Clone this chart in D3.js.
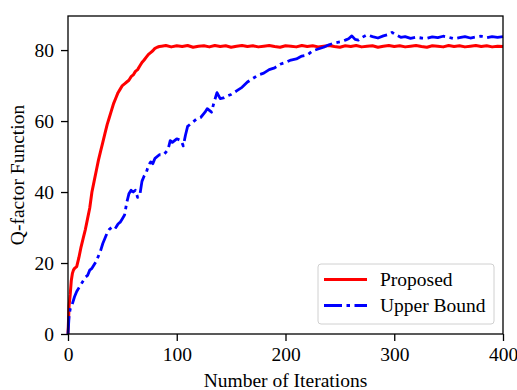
<!DOCTYPE html>
<html lang="en">
<head>
  <meta charset="UTF-8">
  <title>Q-factor Function vs Iterations</title>
  <script src="https://d3js.org/d3.v7.min.js"></script>
  <style>
    body {
      margin: 0;
      background: #fff;
    }
    svg text {
      font-family: "Liberation Serif", "Times New Roman", serif;
      fill: #000;
    }
    .axis path,
    .axis line {
      stroke: #000;
    }
  </style>
</head>
<body>
  <svg width="517" height="390"></svg>

  <script>
    // proposed curve (iteration, value)
    const proposedIter = [0, 1, 2, 3, 4, 5, 6, 8, 10, 12, 14, 16, 18, 20, 22, 24, 26, 28, 30,
      32, 34, 36, 38, 40, 42, 44, 46, 48, 50, 52, 54, 56, 58, 60, 62, 64, 66, 68, 70,
      72, 74, 76, 78, 80, 82, 84, 86, 90, 95, 100, 105, 110, 115, 120, 125, 130, 135,
      140, 145, 150, 155, 160, 165, 170, 175, 180, 185, 190, 195, 200, 205, 210, 215,
      220, 225, 230, 235, 240, 245, 250, 255, 260, 265, 270, 275, 280, 285, 290, 295,
      300, 305, 310, 315, 320, 325, 330, 335, 340, 345, 350, 355, 360, 365, 370, 375,
      380, 385, 390, 395, 400];
    const proposedVal = [0, 8, 11, 15, 17, 18, 18.5, 19, 21.5, 24.5, 27, 29.5, 32.5, 35.5,
      40, 43, 46, 49, 51.5, 54, 56.5, 59, 61, 63, 65, 66.5, 68, 69, 70, 70.5, 71, 71.5,
      72.5, 73, 74, 74.5, 75.5, 76.5, 77.2, 78, 78.8, 79.3, 79.8, 80.5, 80.8, 81, 81.1,
      81.3, 80.9, 81.2, 81.0, 81.3, 80.8, 81.1, 81.2, 80.9, 81.3, 81.0, 81.2, 80.8, 81.1,
      81.3, 81.0, 81.2, 80.9, 81.1, 81.3, 81.0, 80.8, 81.2, 81.1, 80.9, 81.3, 81.0, 81.2,
      80.9, 81.1, 81.3, 81.0, 80.8, 81.2, 81.0, 81.3, 80.9, 81.1, 81.2, 80.8, 81.1, 81.3,
      81.0, 81.2, 80.9, 81.1, 81.3, 81.0, 80.8, 81.2, 81.1, 80.9, 81.3, 81.0, 81.2, 80.9,
      81.1, 81.3, 81.0, 81.2, 80.9, 81.1, 81.0];

    // upper bound curve (iteration, value)
    const upperIter = [0, 1, 2, 4, 6, 8, 10, 12, 14, 16, 18, 20, 22, 24, 26, 28, 30, 32,
      34, 36, 38, 40, 42, 44, 46, 48, 50, 52, 54, 56, 58, 60, 62, 64, 66, 68, 70, 72, 74,
      76, 78, 80, 84, 88, 92, 94, 96, 100, 104, 106, 108, 110, 114, 118, 122, 126, 128,
      132, 134, 137, 140, 143, 146, 150, 155, 160, 165, 170, 175, 180, 185, 190, 195,
      200, 205, 210, 215, 220, 225, 230, 235, 240, 245, 250, 255, 258, 261, 264, 267,
      270, 275, 280, 285, 290, 295, 298, 302, 306, 310, 315, 320, 325, 330, 335, 340,
      345, 350, 355, 360, 365, 370, 375, 380, 385, 390, 395, 400];
    const upperVal = [0, 5, 7, 8.5, 10.5, 12, 13, 14, 15, 16, 16.5, 18, 18.5, 19.5, 20.5,
      22, 23.5, 25.5, 27, 28.5, 29.5, 30, 30.5, 30, 31, 31.5, 32.5, 33.5, 37, 39.5, 40.5,
      40, 40.5, 38.5, 39, 43, 44.5, 45.5, 47.5, 48.5, 48, 49.5, 50.5, 50.5, 52, 54.5, 54,
      55, 54.5, 53, 56, 58.5, 59.5, 60.5, 61, 62.5, 63.5, 62.5, 65, 68, 66.3, 66.5, 67,
      67.5, 68.5, 69.5, 71, 72, 73, 73.5, 74.5, 75, 76, 76.5, 77.2, 77.5, 78.3, 78.6,
      79.8, 80.3, 80.8, 81.5, 82, 82.3, 82.8, 83.2, 84, 83, 82.8, 83.5, 84.3, 83.8, 83.4,
      84, 84.4, 85, 84.2, 83.6, 83.8, 83.3, 83.6, 83.4, 83.3, 83.7, 83.5, 83.9, 83.6,
      83.2, 83.5, 83.8, 83.4, 83.7, 83.9, 83.5, 83.8, 83.6, 83.8];

    const xTicks = [0, 100, 200, 300, 400];
    const yTicks = [0, 20, 40, 60, 80];
    const seriesNames = ['Proposed', 'Upper Bound'];

    const svg = d3.select('svg');
    const margin = { top: 16, right: 14, bottom: 56, left: 68 };
    const width = +svg.attr('width') - margin.left - margin.right;
    const height = +svg.attr('height') - margin.top - margin.bottom;
    const fontSize = 19.5;

    const x = d3.scaleLinear().domain([0, 400]).range([margin.left, margin.left + width]);
    const y = d3.scaleLinear().domain([0, 89.6]).range([margin.top + height, margin.top]);

    const line = d3.line()
      .x(d => x(d[0]))
      .y(d => y(d[1]));

    const proposed = proposedIter.map((d, i) => [d, proposedVal[i]]);
    const upper = upperIter.map((d, i) => [d, upperVal[i]]);

    const styles = [
      { color: '#ff0000', dash: null, w: 3 },
      { color: '#0000ff', dash: '18,4.5,3.5,4.5', w: 2.8 }
    ];

    const plot = svg.append('g');

    [proposed, upper].forEach((series, i) => {
      plot.append('path')
        .datum(series)
        .attr('fill', 'none')
        .attr('stroke', styles[i].color)
        .attr('stroke-width', styles[i].w)
        .attr('stroke-linejoin', 'round')
        .attr('stroke-dasharray', styles[i].dash)
        .attr('d', line);
    });

    // axes
    svg.append('g')
      .attr('class', 'axis')
      .attr('transform', `translate(0, ${margin.top + height})`)
      .call(d3.axisBottom(x).tickValues(xTicks).tickSize(7).tickPadding(6).tickSizeOuter(0))
      .call(g => g.select('.domain').remove());

    svg.append('g')
      .attr('class', 'axis')
      .attr('transform', `translate(${margin.left}, 0)`)
      .call(d3.axisLeft(y).tickValues(yTicks).tickSize(7).tickPadding(7).tickSizeOuter(0))
      .call(g => g.select('.domain').remove());

    svg.selectAll('.axis line').attr('stroke-width', 1.3);
    svg.selectAll('.axis text').attr('font-size', fontSize);

    // frame
    svg.append('rect')
      .attr('x', margin.left)
      .attr('y', margin.top)
      .attr('width', width)
      .attr('height', height)
      .attr('fill', 'none')
      .attr('stroke', '#000')
      .attr('stroke-width', 1.3);

    // axis labels
    svg.append('text')
      .attr('x', margin.left + width / 2)
      .attr('y', 387)
      .attr('text-anchor', 'middle')
      .attr('font-size', fontSize)
      .text('Number of Iterations');

    svg.append('text')
      .attr('transform', `translate(24, ${margin.top + height / 2}) rotate(-90)`)
      .attr('text-anchor', 'middle')
      .attr('font-size', fontSize)
      .text('Q-factor Function');

    // legend
    const legend = svg.append('g').attr('transform', 'translate(318, 264)');
    legend.append('rect')
      .attr('width', 176)
      .attr('height', 60)
      .attr('rx', 3)
      .attr('fill', 'rgba(255,255,255,0.8)')
      .attr('stroke', '#d0d0d0')
      .attr('stroke-width', 1);

    seriesNames.forEach((name, i) => {
      const row = legend.append('g').attr('transform', `translate(0, ${15.5 + i * 26})`);
      row.append('line')
        .attr('x1', 6).attr('x2', 49)
        .attr('y1', 0).attr('y2', 0)
        .attr('stroke', styles[i].color)
        .attr('stroke-width', styles[i].w)
        .attr('stroke-dasharray', styles[i].dash);
      row.append('text')
        .attr('x', 62)
        .attr('y', 6.5)
        .attr('font-size', fontSize)
        .text(name);
    });
  </script>
</body>
</html>
